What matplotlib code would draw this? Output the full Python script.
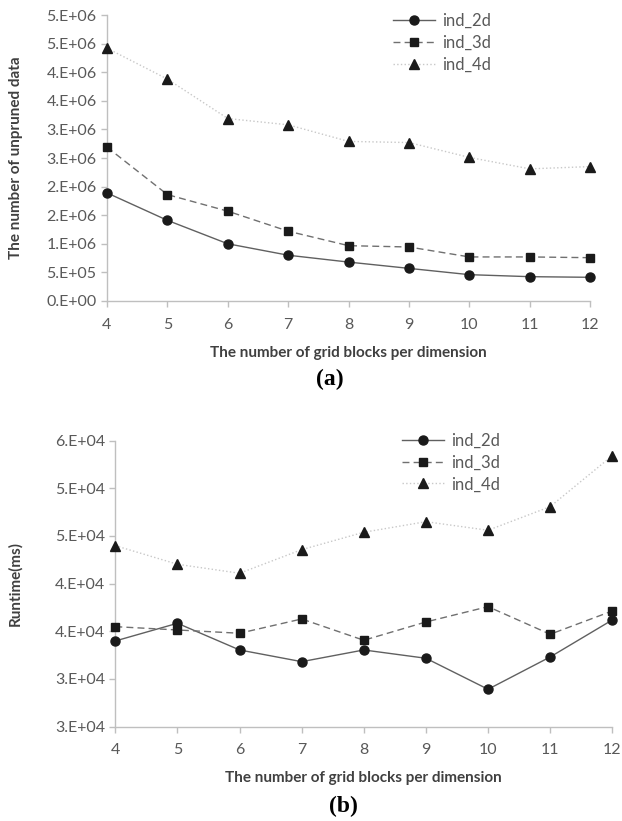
import matplotlib
matplotlib.use("Agg")
import matplotlib.pyplot as plt

# --- data ---
grid_blocks = [4, 5, 6, 7, 8, 9, 10, 11, 12]

# (a) number of unpruned data
unpruned_2d = [1.89e6, 1.41e6, 1.00e6, 0.80e6, 0.68e6, 0.57e6, 0.46e6, 0.425e6, 0.414e6]
unpruned_3d = [2.69e6, 1.86e6, 1.57e6, 1.22e6, 0.967e6, 0.944e6, 0.77e6, 0.77e6, 0.757e6]
unpruned_4d = [4.42e6, 3.88e6, 3.19e6, 3.08e6, 2.79e6, 2.77e6, 2.51e6, 2.31e6, 2.35e6]
unpruned_ticks = [0, 5e5, 1e6, 1.5e6, 2e6, 2.5e6, 3e6, 3.5e6, 4e6, 4.5e6, 5e6]
unpruned_ticklabels = ["0.E+00", "5.E+05", "1.E+06", "2.E+06", "2.E+06", "3.E+06",
                       "3.E+06", "4.E+06", "4.E+06", "5.E+06", "5.E+06"]

# (b) runtime in ms
runtime_2d = [33989, 35845, 33045, 31818, 33045, 32174, 28923, 32311, 36192]
runtime_3d = [35489, 35143, 34797, 36296, 34062, 35982, 37587, 34692, 37135]
runtime_4d = [43985, 42034, 41090, 43565, 45390, 46500, 45600, 48075, 53424]
runtime_ticks = [25000, 30000, 35000, 40000, 45000, 50000, 55000]
runtime_ticklabels = ["3.E+04", "3.E+04", "4.E+04", "4.E+04", "5.E+04", "5.E+04", "6.E+04"]

series_names = ["ind_2d", "ind_3d", "ind_4d"]

plt.rcParams['font.family'] = ['Lato', 'DejaVu Sans']

axis_grey = "#bfbfbf"
text_grey = "#595959"
styles = [
    dict(color="#606060", linestyle="-", marker="o", markersize=6.5),
    dict(color="#707070", linestyle=(0, (5, 3)), marker="s", markersize=5.5),
    dict(color="#c8c8c8", linestyle=":", marker="^", markersize=6.5),
]


def draw_panel(ax, series, ticks, ticklabels, ylabel, ylabel_x, legend_anchor):
    for vals, name, st in zip(series, series_names, styles):
        ax.plot(grid_blocks, vals, label=name, linewidth=1.0,
                markerfacecolor="#1a1a1a", markeredgecolor="#1a1a1a",
                clip_on=False, zorder=3, **st)
    ax.set_xlim(grid_blocks[0], grid_blocks[-1])
    ax.set_xticks(grid_blocks)
    ax.set_ylim(ticks[0], ticks[-1])
    ax.set_yticks(ticks)
    ax.set_yticklabels(ticklabels)
    for s in ["top", "right"]:
        ax.spines[s].set_visible(False)
    for s in ["left", "bottom"]:
        ax.spines[s].set_color(axis_grey)
        ax.spines[s].set_linewidth(1.0)
    ax.tick_params(axis="both", colors=axis_grey, labelcolor=text_grey,
                   labelsize=11.5, length=4, width=1.0)
    ax.tick_params(axis="x", pad=8)
    ax.set_xlabel("The number of grid blocks per dimension", fontsize=11,
                  fontweight="bold", color="#404040", labelpad=10)
    ax.set_ylabel(ylabel, fontsize=11, fontweight="bold", color="#404040")
    ax.yaxis.set_label_coords(ylabel_x, 0.5)
    ax.legend(loc="upper left", bbox_to_anchor=legend_anchor, frameon=False,
              fontsize=12, borderpad=0, handlelength=2.5, handletextpad=0.45,
              labelspacing=0.35, labelcolor=text_grey)


fig = plt.figure(figsize=(6.22, 8.21), dpi=100)
ax_a = fig.add_axes([0.172, 0.6334, 0.777, 0.3483])
ax_b = fig.add_axes([0.1854, 0.1149, 0.799, 0.3484])

draw_panel(ax_a, [unpruned_2d, unpruned_3d, unpruned_4d], unpruned_ticks,
           unpruned_ticklabels, "The number of unpruned data", -0.174, (0.575, 1.036))
draw_panel(ax_b, [runtime_2d, runtime_3d, runtime_4d], runtime_ticks,
           runtime_ticklabels, "Runtime(ms)", -0.188, (0.56, 1.057))

fig.text(0.531, 1 - 379 / 821, "(a)", family="Liberation Serif", fontweight="bold",
         fontsize=17, ha="center", va="center")
fig.text(0.552, 1 - 806 / 821, "(b)", family="Liberation Serif", fontweight="bold",
         fontsize=17, ha="center", va="center")

fig.savefig("out.png", dpi=100)
